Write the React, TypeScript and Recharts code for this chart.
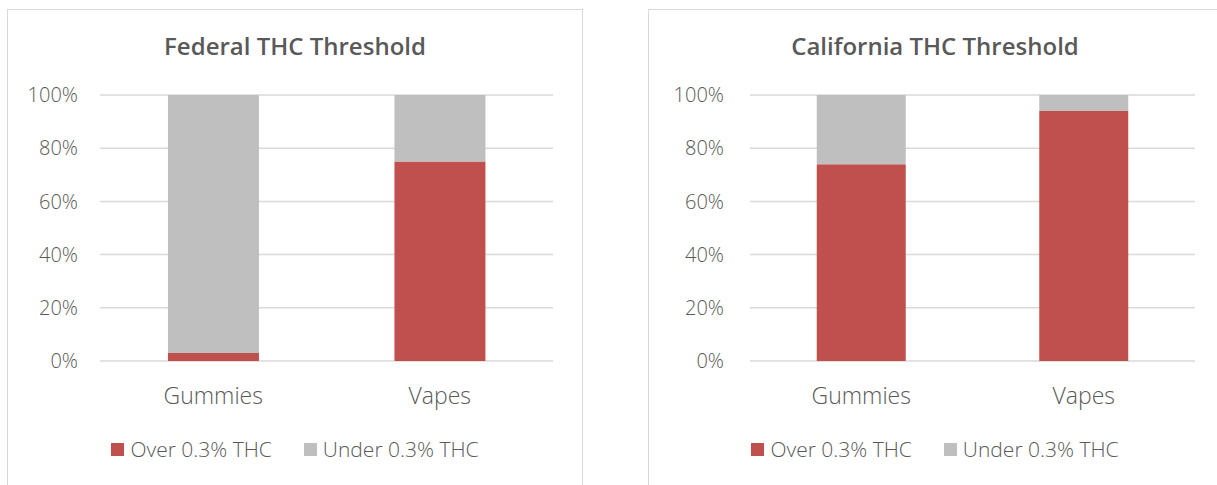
import { BarChart, Bar, XAxis, YAxis, CartesianGrid, Legend } from "recharts";

const categories = ["Gummies", "Vapes"];
const federalOver = [3, 75];
const federalUnder = [97, 25];
const californiaOver = [74, 94];
const californiaUnder = [26, 6];
const yTicks = [0, 20, 40, 60, 80, 100];

const RED = "#C0504D";
const GRAY = "#BFBFBF";
const TEXT = "#595959";
const FONT = "'Open Sans', sans-serif";

// eslint-disable-next-line @typescript-eslint/no-explicit-any
function LegendContent({ payload }: any) {
  return (
    <div style={{ display: "flex", justifyContent: "center", gap: 32, fontFamily: FONT, fontWeight: 300, fontSize: 21, color: TEXT, lineHeight: "28px" }}>
      {(payload || []).map((p: any) => (
        <div key={p.value} style={{ display: "flex", alignItems: "center", gap: 6 }}>
          <div style={{ width: 13, height: 13, background: p.color }} />
          <span>{p.value}</span>
        </div>
      ))}
    </div>
  );
}

function Panel({ title, over, under, left, width, marginRight, yWidth, tickGap }: {
  title: string; over: number[]; under: number[]; left: number; width: number;
  marginRight: number; yWidth: number; tickGap: number;
}) {
  const data = categories.map((c, i) => ({ name: c, over: over[i], under: under[i] }));
  return (
    <div style={{ position: "absolute", left, top: 9, width, height: 476 }}>
      <div style={{ position: "absolute", left: 0, top: 0, width, height: 490, border: "1.5px solid #D9D9D9", boxSizing: "border-box" }} />
      <div style={{ position: "absolute", left: 0, top: 20, width, textAlign: "center", fontFamily: FONT, fontWeight: 600, fontSize: 24, color: TEXT }}>
        {title}
      </div>
      <BarChart
        width={width}
        height={476}
        data={data}
        barCategoryGap="30%"
        margin={{ top: 86, right: marginRight, left: 0, bottom: 0 }}
        style={{ position: "absolute", left: 0, top: 0 }}
      >
        <CartesianGrid vertical={false} stroke="#D9D9D9" strokeWidth={1.5} />
        <XAxis
          dataKey="name"
          axisLine={false}
          tickLine={false}
          tickSize={0}
          tickMargin={27}
          height={96}
          tick={{ fill: TEXT, fontSize: 23, fontFamily: FONT, fontWeight: 300 }}
        />
        <YAxis
          domain={[0, 100]}
          ticks={yTicks}
          width={yWidth}
          axisLine={false}
          tickLine={false}
          tickSize={0}
          tickMargin={tickGap}
          tickFormatter={(v: number) => `${v}%`}
          tick={{ fill: TEXT, fontSize: 20, fontFamily: FONT, fontWeight: 300 }}
        />
        <Legend
          content={<LegendContent />}
          wrapperStyle={{ position: "absolute", top: 426, left: 0, width }}
        />
        <Bar dataKey="over" name="Over 0.3% THC" stackId="a" fill={RED} isAnimationActive={false} />
        <Bar dataKey="under" name="Under 0.3% THC" stackId="a" fill={GRAY} isAnimationActive={false} />
      </BarChart>
    </div>
  );
}

export default function App() {
  return (
    <div style={{ position: "absolute", left: 0, top: 0, width: 1217, height: 485, overflow: "hidden", background: "#fff" }}>
      <Panel title="Federal THC Threshold" over={federalOver} under={federalUnder} left={7} width={576} marginRight={30} yWidth={93} tickGap={22} />
      <Panel title="California THC Threshold" over={californiaOver} under={californiaUnder} left={648} width={574} marginRight={27} yWidth={102} tickGap={26} />
    </div>
  );
}
